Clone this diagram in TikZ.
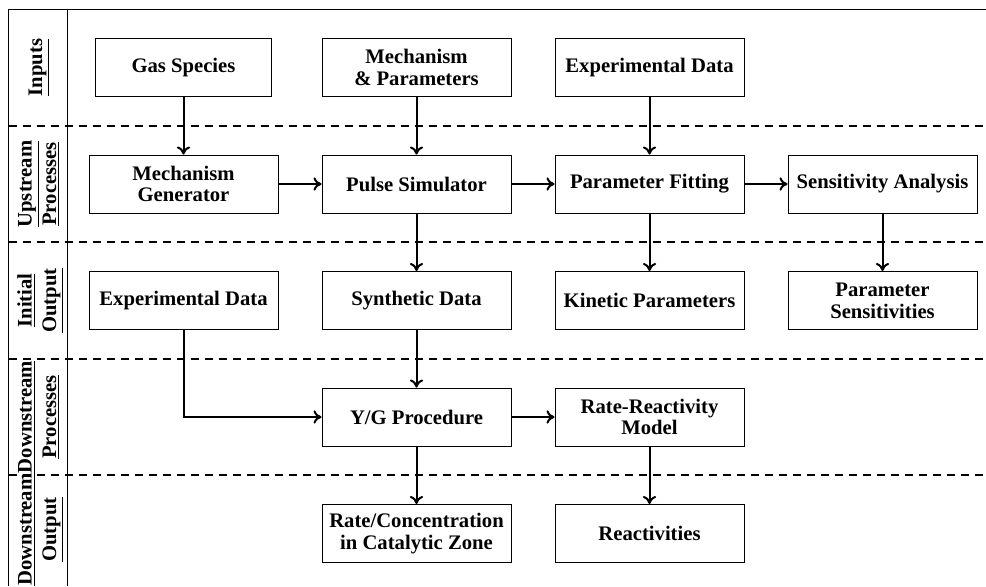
\documentclass[tikz,border=0pt]{standalone}
\usepackage{fontspec}
\setmainfont{Liberation Serif}
\usetikzlibrary{arrows.meta}
\begin{document}
\begin{tikzpicture}[x=0.75pt,y=-0.75pt,
 box/.style={draw, line width=0.75pt, minimum width=141.75pt, minimum height=43.5pt, align=center, inner sep=2pt, font=\fontsize{15.5}{16.3}\selectfont\bfseries},
 arr/.style={line width=1.5pt, -{To[length=6pt,width=10pt]}},
 sep/.style={line width=1.5pt, dash pattern=on 6pt off 4.5pt},
 frame/.style={line width=1pt},
 lab/.style={rotate=90, anchor=base, inner sep=0pt, font=\fontsize{15.5}{16}\selectfont\bfseries}]
\useasboundingbox (0,0) rectangle (986,586);
% frame
\draw[frame] (986,9.3) -- (8.5,9.3) -- (8.5,586);
\draw[frame] (67.5,9.3) -- (67.5,586);
% separators
\foreach \yy in {125.75,242.25,358.75,475.25}
  \draw[sep] (8.5,\yy) -- (986,\yy);
% row labels
\node[lab] (l1) at (42,67.5) {\underline{Inputs}};
\node[lab] (l2a) at (31.7,184) {\underline{Upstream}};
\node[lab] (l2b) at (56,184) {\underline{Processes}};
\node[lab] (l3a) at (31.7,300.5) {\underline{Initial}};
\node[lab] (l3b) at (56,300.5) {\underline{Output}};
\node[lab] (l4a) at (31.7,417) {\underline{Downstream}};
\node[lab] (l4b) at (56,417) {\underline{Processes}};
\node[lab] (l5a) at (31.7,529.5) {\underline{Downstream}};
\node[lab] (l5b) at (56,529.5) {\underline{Output}};
% row 1
\node[box, minimum width=132pt] (gas) at (183.5,67.5) {Gas Species};
\node[box] (mp) at (416.5,67.5) {Mechanism\\\& Parameters};
\node[box] (ed) at (649.5,67.5) {Experimental Data};
% row 2
\node[box] (mg) at (183.5,184) {Mechanism\\Generator};
\node[box] (ps) at (416.5,184) {Pulse Simulator};
\node[box] (pf) at (649.5,184) {Parameter Fitting};
\node[box] (sa) at (882.5,184) {Sensitivity Analysis};
% row 3
\node[box] (ed2) at (183.5,300.5) {Experimental Data};
\node[box] (sd) at (416.5,300.5) {Synthetic Data};
\node[box] (kp) at (649.5,300.5) {Kinetic Parameters};
\node[box] (psn) at (882.5,300.5) {Parameter\\Sensitivities};
% row 4
\node[box] (yg) at (416.5,417) {Y/G Procedure};
\node[box] (rr) at (649.5,417) {Rate-Reactivity\\Model};
% row 5
\node[box] (rc) at (416.5,533.5) {Rate/Concentration\\in Catalytic Zone};
\node[box] (re) at (649.5,533.5) {Reactivities};
% arrows
\draw[arr] (gas) -- (mg);
\draw[arr] (mp) -- (ps);
\draw[arr] (ed) -- (pf);
\draw[arr] (mg) -- (ps);
\draw[arr] (ps) -- (pf);
\draw[arr] (pf) -- (sa);
\draw[arr] (ps) -- (sd);
\draw[arr] (pf) -- (kp);
\draw[arr] (sa) -- (psn);
\draw[arr] (ed2.south) |- (yg.west);
\draw[arr] (sd) -- (yg);
\draw[arr] (yg) -- (rr);
\draw[arr] (yg) -- (rc);
\draw[arr] (rr) -- (re);
\end{tikzpicture}
\end{document}
